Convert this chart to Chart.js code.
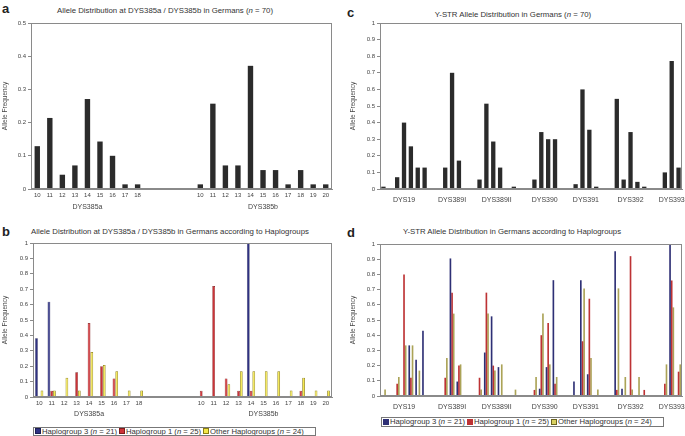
<!DOCTYPE html>
<html>
<head>
<meta charset="utf-8">
<script src="https://cdn.jsdelivr.net/npm/chart.js@4.4.1/dist/chart.umd.min.js"></script>
<style>
  body { margin: 0; background: #fff; width: 685px; height: 436px; overflow: hidden; position: relative;
         font-family: "Liberation Sans", Arial, sans-serif; color: #333; }
  canvas { position: absolute; }
  .title { position: absolute; font-size: 7.8px; line-height: 10px; text-align: center; white-space: nowrap; color: #333; }
  .letter { position: absolute; font-size: 13px; font-weight: bold; line-height: 12px; color: #222; }
  .legend { position: absolute; border: 1px solid #777; font-size: 7.7px; line-height: 8px; white-space: nowrap;
            box-sizing: border-box; display: flex; align-items: center; padding-left: 1px; color: #333; overflow: hidden; }
  .legend .sq { display: inline-block; width: 4px; height: 4px; margin-right: 1px; border: 1px solid; vertical-align: -0.5px; }
  .legend .item { margin-right: 2px; }
</style>
</head>
<body>
<div class="letter" style="left:2px;top:3px">a</div>
<div class="title" style="left:15px;top:6px;width:300px">Allele Distribution at DYS385a / DYS385b in Germans (<i>n</i> = 70)</div>
<div class="letter" style="left:347px;top:7px">c</div>
<div class="title" style="left:363px;top:10px;width:300px">Y-STR Allele Distribution in Germans (<i>n</i> = 70)</div>
<div class="letter" style="left:2px;top:226px">b</div>
<div class="title" style="left:20px;top:227px;width:300px">Allele Distribution at DYS385a / DYS385b in Germans according to Haplogroups</div>
<div class="letter" style="left:347px;top:227px">d</div>
<div class="title" style="left:362px;top:227px;width:300px">Y-STR Allele Distribution in Germans according to Haplogroups</div>

<canvas id="chartA" width="340" height="218" style="left:0;top:0"></canvas>
<canvas id="chartC" width="345" height="210" style="left:340px;top:0"></canvas>
<canvas id="chartB" width="340" height="186" style="left:0;top:236px"></canvas>
<canvas id="chartD" width="345" height="180" style="left:340px;top:236px"></canvas>

<div class="legend" id="legendB" style="left:33px;top:427px;width:283px;height:9px"></div>
<div class="legend" id="legendD" style="left:381px;top:417px;width:283px;height:10px"></div>

<script>
// DYS385 a/b (panels a and b) - 24 slots, 4 empty between the loci
var dys385Labels = ['10','11','12','13','14','15','16','17','18','','','','','10','11','12','13','14','15','16','17','18','19','20'];
var dys385Groups = ['DYS385a', 'DYS385b'];
var dys385GroupSlots = [[0, 8], [13, 23]];
var dys385All   = [0.129,0.214,0.043,0.071,0.271,0.143,0.1,0.014,0.014, null,null,null,null, 0.014,0.257,0.071,0.071,0.371,0.057,0.057,0.014,0.057,0.014,0.014];
var dys385Hg3   = [0.381,0.619,null,null,null,null,null,null,null, null,null,null,null, null,null,null,null,1.0,null,null,null,null,null,null];
var dys385Hg1   = [null,0.04,null,0.16,0.48,0.2,0.12,null,null, null,null,null,null, 0.04,0.72,0.12,0.04,0.04,null,null,null,0.04,null,null];
var dys385Other = [0.042,0.042,0.125,0.042,0.292,0.208,0.167,0.042,0.042, null,null,null,null, null,null,0.083,0.167,0.167,0.167,0.167,0.042,0.125,0.042,0.042];

// Y-STR loci (panels c and d) - 44 slots
var ystrLoci = ['DYS19','DYS389I','DYS389II','DYS390','DYS391','DYS392','DYS393'];
var ystrLociSlots = [[0,6],[9,11],[14,19],[22,25],[28,31],[34,38],[41,43]];
var ystrAll = [0.014,null,0.071,0.4,0.257,0.129,0.129, null,null,
               0.129,0.7,0.171, null,null,
               0.057,0.514,0.286,0.129,null,0.014, null,null,
               0.057,0.343,0.3,0.3, null,null,
               0.029,0.6,0.357,0.014, null,null,
               0.543,0.057,0.343,0.043,0.014, null,null,
               0.1,0.771,0.129];
var ystrHg3 = [null,null,null,null,0.333,0.238,0.429, null,null,
               null,0.905,0.095, null,null,
               null,0.286,0.524,0.19,null,null, null,null,
               null,0.048,0.19,0.762, null,null,
               0.095,0.762,0.143,null, null,null,
               0.952,0.048,null,null,null, null,null,
               null,1.0,null];
var ystrHg1 = [null,null,0.08,0.8,0.12,null,null, null,null,
               0.12,0.68,0.2, null,null,
               0.12,0.68,0.2,null,null,null, null,null,
               0.04,0.4,0.48,0.08, null,null,
               null,0.36,0.64,null, null,null,
               0.04,null,0.92,null,0.04, null,null,
               0.08,0.76,0.16];
var ystrOther = [0.042,null,0.125,0.333,0.333,0.167,null, null,null,
                 0.25,0.542,0.208, null,null,
                 0.042,0.542,0.167,0.208,null,0.042, null,null,
                 0.125,0.542,0.208,0.125, null,null,
                 null,0.708,0.25,0.042, null,null,
                 0.708,0.125,0.042,0.125,null, null,null,
                 0.208,0.583,0.208];

var legendNames = ['Haplogroup 3', 'Haplogroup 1', 'Other Haplogroups'];
var legendN = [21, 25, 24];

var FONT = '"Liberation Sans", Arial, sans-serif';

// frame around the plot area
var framePlugin = {
  id: 'frame',
  afterDraw: function(chart) {
    var a = chart.chartArea, ctx = chart.ctx;
    ctx.save();
    ctx.strokeStyle = '#8a8a8a';
    ctx.lineWidth = 1;
    ctx.strokeRect(Math.round(a.left) + 0.5, Math.round(a.top) + 0.5, Math.round(a.right - a.left) - 1, Math.round(a.bottom - a.top) - 1);
    ctx.restore();
  }
};

// locus names under the category axis
var groupLabelPlugin = {
  id: 'groupLabels',
  afterDraw: function(chart, args, opts) {
    var x = chart.scales.x, ctx = chart.ctx;
    ctx.save();
    ctx.font = '7px ' + FONT;
    ctx.fillStyle = '#444';
    ctx.textAlign = 'center';
    ctx.textBaseline = 'middle';
    opts.names.forEach(function(name, i) {
      var s = opts.slots[i];
      ctx.fillText(name, x.getPixelForValue((s[0] + s[1]) / 2), chart.chartArea.bottom + opts.offset);
    });
    ctx.restore();
  }
};

function makeChart(id, labels, datasets, o) {
  return new Chart(document.getElementById(id), {
    type: 'bar',
    data: { labels: labels, datasets: datasets },
    plugins: [framePlugin, groupLabelPlugin],
    options: {
      responsive: false,
      animation: false,
      devicePixelRatio: 1,
      layout: { padding: { left: 0, right: o.padRight, top: o.padTop, bottom: 0 } },
      plugins: {
        legend: { display: false },
        tooltip: { enabled: false },
        groupLabels: { names: o.groups, slots: o.groupSlots, offset: o.groupOffset }
      },
      scales: {
        x: {
          grid: { display: false, drawTicks: false },
          border: { color: '#8a8a8a' },
          ticks: { display: o.showTicks, autoSkip: false, maxRotation: 0, padding: 3,
                   color: '#444', font: { size: 6, family: FONT } },
          afterFit: function(s) { s.height = o.xHeight; }
        },
        y: {
          min: 0, max: o.yMax,
          grid: { drawOnChartArea: false, drawTicks: true, tickLength: 3, color: '#8a8a8a' },
          border: { color: '#8a8a8a' },
          ticks: { stepSize: 0.1, padding: 2, color: '#444', font: { size: 6, family: FONT },
                   callback: function(v) { return String(Math.round(v * 10) / 10); } },
          title: { display: true, text: 'Allele Frequency', color: '#444',
                   padding: { top: o.titlePad, bottom: 0 }, font: { size: 6.5, family: FONT } },
          afterFit: function(s) { s.width = o.yWidth; }
        }
      }
    }
  });
}

// panel a
makeChart('chartA', dys385Labels, [
  { data: dys385All, backgroundColor: '#2b2b2b', barPercentage: 0.43, categoryPercentage: 1 }
], { padRight: 8, padTop: 23, xHeight: 29, yWidth: 31, yMax: 0.5, titlePad: 1, showTicks: true,
     groups: dys385Groups, groupSlots: dys385GroupSlots, groupOffset: 18 });

// panel c
makeChart('chartC', ystrAll.map(function() { return ''; }), [
  { data: ystrAll, backgroundColor: '#2b2b2b', barPercentage: 0.63, categoryPercentage: 1 }
], { padRight: 3, padTop: 23, xHeight: 21, yWidth: 40, yMax: 1, titlePad: 9, showTicks: false,
     groups: ystrLoci, groupSlots: ystrLociSlots, groupOffset: 11 });

// panel b
makeChart('chartB', dys385Labels, [
  { data: dys385Hg3, backgroundColor: '#2f3282', borderColor: '#1c1d55', borderWidth: 0.6, barPercentage: 1, categoryPercentage: 0.66 },
  { data: dys385Hg1, backgroundColor: '#cc3338', borderColor: '#7e1c1c', borderWidth: 0.6, barPercentage: 1, categoryPercentage: 0.66 },
  { data: dys385Other, backgroundColor: '#f4e84a', borderColor: '#8c7e12', borderWidth: 0.8, barPercentage: 1, categoryPercentage: 0.66 }
], { padRight: 8, padTop: 7, xHeight: 25, yWidth: 33, yMax: 1, titlePad: 1, showTicks: true,
     groups: dys385Groups, groupSlots: dys385GroupSlots, groupOffset: 17 });

// panel d
makeChart('chartD', ystrAll.map(function() { return ''; }), [
  { data: ystrHg3, backgroundColor: '#2e3075', barPercentage: 1, categoryPercentage: 0.72 },
  { data: ystrHg1, backgroundColor: '#bd3234', barPercentage: 1, categoryPercentage: 0.72 },
  { data: ystrOther, backgroundColor: '#aba357', barPercentage: 1, categoryPercentage: 0.72 }
], { padRight: 3, padTop: 8, xHeight: 20, yWidth: 40, yMax: 1, titlePad: 9, showTicks: false,
     groups: ystrLoci, groupSlots: ystrLociSlots, groupOffset: 11 });

// html legends (italic n)
function buildLegend(id, fills, borders) {
  var html = '';
  for (var i = 0; i < legendNames.length; i++) {
    html += '<span class="item"><span class="sq" style="background:' + fills[i] + ';border-color:' + borders[i] + '"></span>' +
            legendNames[i] + ' (<i>n</i> = ' + legendN[i] + ')</span>';
  }
  document.getElementById(id).innerHTML = html;
}
buildLegend('legendB', ['#2f3282', '#cc3338', '#f4e84a'], ['#1c1d55', '#7e1c1c', '#8c7e12']);
buildLegend('legendD', ['#2e3075', '#bd3234', '#d8d060'], ['#2e3075', '#bd3234', '#6b6420']);
</script>
</body>
</html>
